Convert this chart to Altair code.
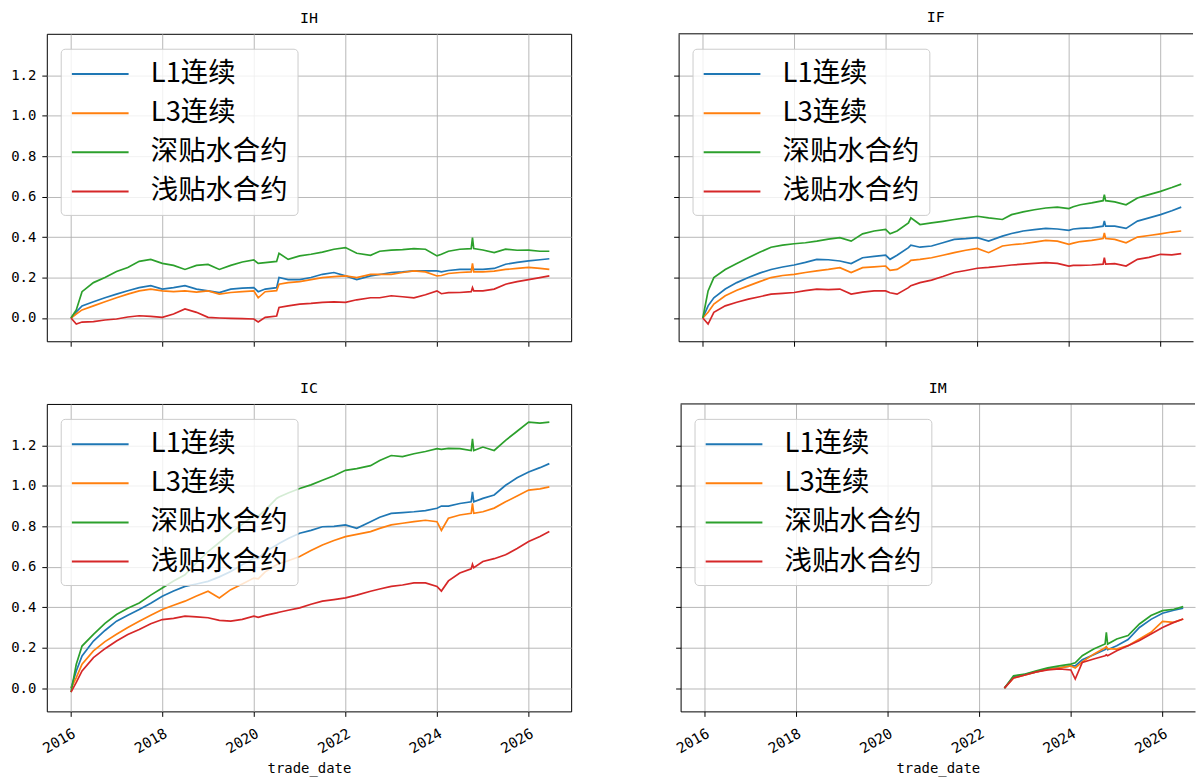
import altair as alt
import pandas as pd

dates = ["2016-01-04", "2016-02-15", "2016-04-01", "2016-07-01", "2016-10-01",
         "2017-01-01", "2017-04-01", "2017-07-01", "2017-10-01",
         "2018-01-01", "2018-04-01", "2018-07-01", "2018-10-01",
         "2019-01-01", "2019-04-01", "2019-07-01", "2019-10-01",
         "2020-01-01", "2020-02-05", "2020-04-01", "2020-07-01", "2020-07-20", "2020-10-01",
         "2021-01-01", "2021-04-01", "2021-07-01", "2021-10-01",
         "2022-01-01", "2022-04-01", "2022-07-20", "2022-10-01",
         "2023-01-01", "2023-04-01", "2023-07-01", "2023-10-01",
         "2024-01-01", "2024-02-05", "2024-04-01", "2024-07-01", "2024-09-30", "2024-10-10", "2024-10-20",
         "2025-01-01", "2025-04-01", "2025-07-01", "2025-10-01",
         "2026-01-01", "2026-04-01", "2026-06-15"]

series_names = ["L1连续", "L3连续", "深贴水合约", "浅贴水合约"]
series_colors = ["#1f77b4", "#ff7f0e", "#2ca02c", "#d62728"]

ih_l1 = [0, 0.03, 0.06, 0.08, 0.10, 0.118, 0.135, 0.15, 0.16, 0.143, 0.15, 0.16, 0.143,
         0.134, 0.126, 0.143, 0.148, 0.15, 0.13, 0.143, 0.15, 0.2, 0.19, 0.19, 0.2, 0.216,
         0.225, 0.208, 0.19, 0.208, 0.215, 0.225, 0.228, 0.233, 0.233, 0.233, 0.228, 0.235,
         0.24, 0.24, 0.25, 0.24, 0.24, 0.245, 0.266, 0.275, 0.282, 0.288, 0.293]
ih_l3 = [0, 0.02, 0.04, 0.06, 0.08, 0.10, 0.118, 0.134, 0.143, 0.134, 0.13, 0.134, 0.128,
         0.134, 0.118, 0.126, 0.13, 0.134, 0.10, 0.13, 0.135, 0.167, 0.175, 0.18, 0.19, 0.2,
         0.205, 0.208, 0.2, 0.216, 0.216, 0.216, 0.225, 0.233, 0.228, 0.208, 0.21, 0.22,
         0.225, 0.228, 0.27, 0.228, 0.228, 0.232, 0.24, 0.245, 0.25, 0.245, 0.24]
ih_deep = [0, 0.04, 0.13, 0.175, 0.2, 0.23, 0.25, 0.28, 0.29, 0.27, 0.26, 0.24, 0.26,
           0.265, 0.24, 0.26, 0.277, 0.287, 0.27, 0.274, 0.28, 0.32, 0.29, 0.307, 0.315,
           0.326, 0.34, 0.348, 0.32, 0.31, 0.33, 0.336, 0.338, 0.343, 0.34, 0.307, 0.315,
           0.33, 0.34, 0.343, 0.397, 0.343, 0.336, 0.323, 0.34, 0.335, 0.336, 0.33, 0.33]
ih_shallow = [0, -0.03, -0.02, -0.018, -0.01, -0.005, 0.005, 0.011, 0.008, 0.003, 0.02,
              0.045, 0.028, 0.003, 0.0, -0.002, -0.003, -0.005, -0.02, 0.003, 0.01, 0.052,
              0.06, 0.069, 0.072, 0.077, 0.08, 0.077, 0.09, 0.1, 0.1, 0.11, 0.105, 0.1, 0.115,
              0.134, 0.12, 0.125, 0.126, 0.13, 0.15, 0.134, 0.134, 0.143, 0.167, 0.18, 0.19,
              0.2, 0.208]

if_l1 = [0, 0.06, 0.1, 0.143, 0.175, 0.2, 0.222, 0.24, 0.252, 0.262, 0.275, 0.29, 0.288,
         0.282, 0.269, 0.298, 0.305, 0.311, 0.29, 0.31, 0.348, 0.36, 0.35, 0.356, 0.372,
         0.389, 0.392, 0.397, 0.38, 0.405, 0.418, 0.43, 0.437, 0.443, 0.44, 0.433, 0.44,
         0.443, 0.446, 0.454, 0.48, 0.454, 0.454, 0.443, 0.479, 0.495, 0.511, 0.53, 0.548]
if_l3 = [0, 0.028, 0.069, 0.11, 0.137, 0.159, 0.18, 0.2, 0.21, 0.216, 0.225, 0.233, 0.24,
         0.249, 0.225, 0.249, 0.253, 0.257, 0.236, 0.24, 0.274, 0.285, 0.29, 0.298, 0.31,
         0.323, 0.335, 0.344, 0.323, 0.356, 0.362, 0.367, 0.375, 0.384, 0.38, 0.364, 0.37,
         0.378, 0.384, 0.393, 0.42, 0.393, 0.389, 0.372, 0.4, 0.408, 0.416, 0.425, 0.43]
if_deep = [0, 0.134, 0.2, 0.24, 0.27, 0.298, 0.325, 0.35, 0.36, 0.367, 0.372, 0.38, 0.39,
           0.397, 0.38, 0.416, 0.43, 0.438, 0.416, 0.43, 0.47, 0.495, 0.462, 0.47, 0.478,
           0.487, 0.495, 0.503, 0.495, 0.487, 0.511, 0.525, 0.535, 0.544, 0.548, 0.541, 0.55,
           0.56, 0.569, 0.58, 0.61, 0.58, 0.574, 0.56, 0.593, 0.61, 0.626, 0.645, 0.662]
if_shallow = [0, -0.03, 0.028, 0.06, 0.078, 0.093, 0.105, 0.118, 0.122, 0.126, 0.135,
              0.143, 0.14, 0.143, 0.118, 0.128, 0.134, 0.134, 0.125, 0.118, 0.15, 0.16,
              0.175, 0.187, 0.205, 0.225, 0.235, 0.246, 0.25, 0.257, 0.262, 0.266, 0.27,
              0.274, 0.27, 0.257, 0.26, 0.26, 0.262, 0.266, 0.298, 0.266, 0.269, 0.257, 0.29,
              0.3, 0.315, 0.312, 0.318]

ic_l1 = [0, 0.085, 0.159, 0.233, 0.285, 0.331, 0.36, 0.389, 0.42, 0.454, 0.48, 0.503,
         0.515, 0.528, 0.55, 0.577, 0.61, 0.643, 0.64, 0.675, 0.708, 0.715, 0.74, 0.766,
         0.78, 0.798, 0.8, 0.807, 0.79, 0.823, 0.845, 0.864, 0.868, 0.872, 0.878, 0.889,
         0.9, 0.9, 0.913, 0.921, 0.97, 0.921, 0.938, 0.955, 1.003, 1.04, 1.069, 1.09, 1.11]
ic_l3 = [0, 0.052, 0.118, 0.184, 0.23, 0.266, 0.3, 0.331, 0.36, 0.389, 0.41, 0.43, 0.455,
         0.479, 0.446, 0.487, 0.515, 0.544, 0.54, 0.575, 0.61, 0.615, 0.63, 0.651, 0.68,
         0.708, 0.73, 0.749, 0.76, 0.774, 0.79, 0.807, 0.815, 0.823, 0.83, 0.823, 0.78,
         0.84, 0.856, 0.864, 0.913, 0.864, 0.872, 0.89, 0.921, 0.95, 0.979, 0.985, 0.995]
ic_deep = [-0.02, 0.118, 0.208, 0.266, 0.32, 0.364, 0.395, 0.421, 0.46, 0.495, 0.53, 0.56,
           0.62, 0.675, 0.72, 0.766, 0.81, 0.856, 0.85, 0.88, 0.938, 0.945, 0.965, 0.987,
           1.005, 1.028, 1.05, 1.077, 1.085, 1.1, 1.125, 1.15, 1.145, 1.159, 1.17, 1.184,
           1.18, 1.185, 1.184, 1.175, 1.233, 1.175, 1.192, 1.175, 1.225, 1.27, 1.315, 1.31,
           1.315]
ic_shallow = [-0.02, 0.028, 0.085, 0.151, 0.195, 0.233, 0.265, 0.29, 0.318, 0.339, 0.345,
              0.356, 0.352, 0.348, 0.335, 0.331, 0.34, 0.356, 0.35, 0.36, 0.372, 0.375,
              0.385, 0.397, 0.415, 0.43, 0.438, 0.446, 0.46, 0.479, 0.49, 0.503, 0.51, 0.52,
              0.52, 0.503, 0.48, 0.53, 0.569, 0.59, 0.612, 0.595, 0.626, 0.64, 0.659, 0.69,
              0.725, 0.75, 0.774]

N = None
im_l1 = [N] * 29 + [0, 0.055, 0.068, 0.08, 0.095, 0.1, 0.11, 0.11, 0.14, 0.165, 0.19, 0.2,
                    0.19, 0.21, 0.24, 0.3, 0.34, 0.37, 0.385, 0.395]
im_l3 = [N] * 29 + [0, 0.05, 0.065, 0.08, 0.092, 0.1, 0.11, 0.1, 0.13, 0.168, 0.2, 0.205,
                    0.195, 0.193, 0.21, 0.243, 0.276, 0.33, 0.325, 0.342]
im_deep = [N] * 29 + [0, 0.061, 0.07, 0.085, 0.1, 0.11, 0.119, 0.125, 0.16, 0.193, 0.218,
                      0.276, 0.218, 0.243, 0.26, 0.317, 0.359, 0.383, 0.39, 0.403]
im_shallow = [N] * 29 + [0, 0.05, 0.065, 0.08, 0.09, 0.095, 0.09, 0.045, 0.127, 0.144,
                         0.16, 0.165, 0.16, 0.185, 0.21, 0.235, 0.268, 0.3, 0.325, 0.342]

panels = [
    ("IH", [ih_l1, ih_l3, ih_deep, ih_shallow]),
    ("IF", [if_l1, if_l3, if_deep, if_shallow]),
    ("IC", [ic_l1, ic_l3, ic_deep, ic_shallow]),
    ("IM", [im_l1, im_l3, im_deep, im_shallow]),
]

y_ticks = [0.0, 0.2, 0.4, 0.6, 0.8, 1.0, 1.2]
x_tick_years = [2016, 2018, 2020, 2022, 2024, 2026]

MONO = "DejaVu Sans Mono"
CJK = "Noto Sans CJK SC"
H = 309
W_LEFT = 527
W_RIGHT = 517  # the right column runs off the page edge, as in the original


def make_panel(name, arrays, left, bottom):
    rows = []
    for s, arr in zip(series_names, arrays):
        for d, v in zip(dates, arr):
            if v is not None:
                rows.append({"trade_date": d, "series": s, "value": v})
    df = pd.DataFrame(rows)
    if left:
        width = W_LEFT
        x_end = alt.DateTime(year=2026, month=12, date=6)
    else:
        width = W_RIGHT
        x_end = alt.DateTime(year=2026, month=9, date=17)
    x_axis = alt.Axis(
        values=[alt.DateTime(year=y, month=1, date=1) for y in x_tick_years],
        format="%Y", labels=bottom, labelAngle=-30, labelAlign="right",
        labelBaseline="top", labelFont=MONO, labelFontSize=14.5, labelColor="black",
        labelPadding=10,
        title="trade_date" if bottom else None, titleFont=MONO,
        titleFontSize=14, titleFontWeight="normal", titleColor="black", titlePadding=6,
        grid=True, gridColor="#b0b0b0", gridWidth=0.9,
        domain=not left, domainColor="black", domainWidth=1,
        ticks=True, tickColor="black", tickSize=5, tickWidth=1,
        **({} if bottom else {"minExtent": 5, "maxExtent": 5}),
    )
    y_axis = alt.Axis(
        values=y_ticks, format=".1f", labels=left, labelFont=MONO,
        labelFontSize=14, labelColor="black", labelPadding=6, title=None,
        grid=True, gridColor="#b0b0b0", gridWidth=0.9,
        domain=not left, domainColor="black", domainWidth=1,
        ticks=True, tickColor="black", tickSize=5, tickWidth=1,
        minExtent=38 if left else 5, maxExtent=38 if left else 5,
    )
    lines = alt.Chart(df).mark_line(strokeWidth=1.7).encode(
        x=alt.X("trade_date:T", axis=x_axis,
                scale=alt.Scale(domain=[alt.DateTime(year=2015, month=6, date=25), x_end])),
        y=alt.Y("value:Q", axis=y_axis,
                scale=alt.Scale(domain=[-0.115, 1.405], nice=False, zero=False)),
        color=alt.Color("series:N",
                        scale=alt.Scale(domain=series_names, range=series_colors),
                        sort=series_names,
                        legend=alt.Legend(
                            title=None, orient="none", legendX=14, legendY=15,
                            symbolType="M-0.986,0H2.945", symbolSize=841,
                            symbolStrokeWidth=2,
                            labelFont=CJK, labelFontSize=27.5, labelColor="black",
                            labelOffset=49.5, rowPadding=10.3, padding=10,
                            fillColor="rgba(255,255,255,0.8)", strokeColor="#cccccc",
                            cornerRadius=4, labelLimit=400,
                        )),
        detail="series:N",
    )
    title = alt.TitleParams(name, font=MONO, fontSize=15, fontWeight="normal",
                            color="black", offset=8)
    if left:
        return lines.properties(width=width, height=H, title=title)
    # right column: frame open on the right side (cut off by the page edge)
    top_edge = alt.Chart(pd.DataFrame({"edge": [0]})).mark_rule(
        color="black", strokeWidth=1
    ).encode(x=alt.value(0), x2=alt.value(width), y=alt.value(0))
    return alt.layer(lines, top_edge).properties(
        width=width, height=H, title=title,
        view=alt.ViewBackground(stroke="transparent"),
    )


charts = [
    make_panel("IH", panels[0][1], True, False),
    make_panel("IF", panels[1][1], False, False),
    make_panel("IC", panels[2][1], True, True),
    make_panel("IM", panels[3][1], False, True),
]

top = alt.hconcat(charts[0], charts[1], spacing=101).resolve_scale(color="independent")
bottom = alt.hconcat(charts[2], charts[3], spacing=101).resolve_scale(color="independent")
chart = alt.vconcat(top, bottom, spacing=33).resolve_scale(color="independent")
chart = chart.configure(background="white", padding=0).configure_view(
    stroke="black", strokeWidth=1
)

chart.save("out.html", embed_options={"renderer": "svg", "actions": False})
